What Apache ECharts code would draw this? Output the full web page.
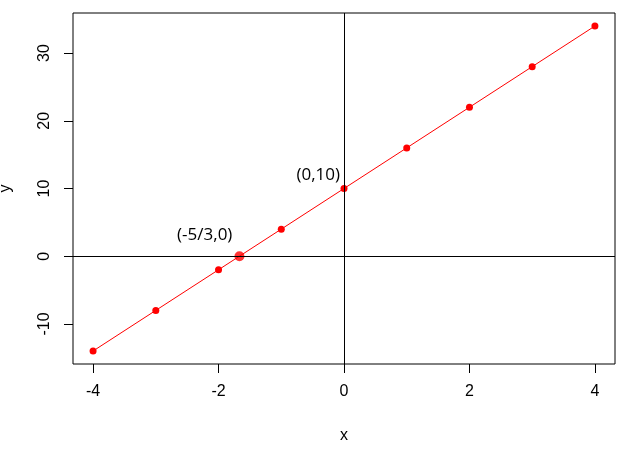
<!DOCTYPE html>
<html><head><meta charset="utf-8">
<script src="https://cdn.jsdelivr.net/npm/echarts@6/dist/echarts.min.js"></script>
<style>html,body{margin:0;padding:0;background:#fff}#c{width:637px;height:451px}</style>
</head><body><div id="c"></div>
<script>
const xValues = [-4, -3, -2, -1, 0, 1, 2, 3, 4];
const yValues = [-14, -8, -2, 4, 10, 16, 22, 28, 34];
const rootPoint = [-5/3, 0];
const xTicks = [-4, -2, 0, 2, 4];
const yTicks = [-10, 0, 10, 20, 30];
const annotations = [
  {text: '(0,10)', at: [-0.41, 12]},
  {text: '(-5/3,0)', at: [-2.22, 3.1]}
];

const chart = echarts.init(document.getElementById('c'), null, {renderer: 'canvas'});
const tickFont = {fontFamily: 'Liberation Sans, Arial, sans-serif', fontSize: 16, color: '#000'};
chart.setOption({
  animation: false,
  backgroundColor: '#fff',
  grid: {left: 73, top: 13, right: 22, bottom: 87, containLabel: false, outerBoundsMode: 'none',
         show: true, borderColor: '#000', borderWidth: 1, backgroundColor: 'transparent'},
  xAxis: {
    type: 'value', min: -4.32, max: 4.32,
    name: 'x', nameLocation: 'middle', nameGap: 64,
    nameTextStyle: tickFont,
    axisLine: {show: false, onZero: false},
    splitLine: {show: false},
    axisTick: {show: true, inside: false, length: 9, customValues: xTicks, lineStyle: {color: '#000'}},
    axisLabel: Object.assign({customValues: xTicks, margin: 20}, tickFont)
  },
  yAxis: {
    type: 'value', min: -15.92, max: 35.92,
    name: 'y', nameLocation: 'middle', nameGap: 59, nameRotate: 90,
    nameTextStyle: tickFont,
    axisLine: {show: false, onZero: false},
    splitLine: {show: false},
    axisTick: {show: true, inside: false, length: 9, customValues: yTicks, lineStyle: {color: '#000'}},
    axisLabel: Object.assign({customValues: yTicks, margin: 20, rotate: 90}, tickFont)
  },
  series: [
    {
      type: 'line',
      data: xValues.map((x, i) => [x, yValues[i]]),
      lineStyle: {color: '#ff0000', width: 1},
      itemStyle: {color: '#ff0000'},
      symbol: 'circle', symbolSize: 7,
      markLine: {
        silent: true, symbol: 'none', label: {show: false},
        lineStyle: {color: '#000', width: 1, type: 'solid'},
        data: [{xAxis: 0}, {yAxis: 0}]
      },
      z: 3
    },
    {
      type: 'scatter',
      data: [rootPoint],
      symbol: 'circle', symbolSize: 10,
      itemStyle: {color: '#ff0000'},
      z: 4
    },
    {
      type: 'scatter',
      symbolSize: 0,
      itemStyle: {color: '#000', opacity: 1},
      data: annotations.map(a => ({value: a.at, label: {show: true, formatter: a.text}})),
      label: {position: [0, 0], align: 'center', verticalAlign: 'middle',
              fontFamily: 'Open Sans, Noto Sans, sans-serif', fontSize: 17, color: '#000',
              textBorderWidth: 0, opacity: 1},
      z: 5
    }
  ]
});
</script></body></html>
